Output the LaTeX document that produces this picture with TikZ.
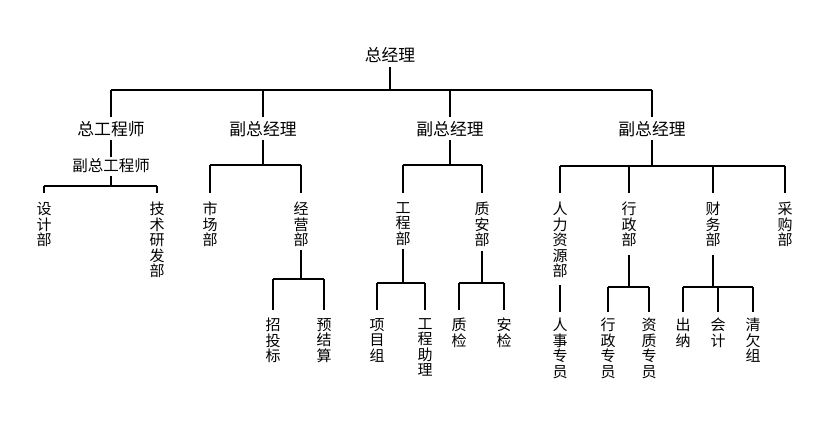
\documentclass[tikz,border=0pt]{standalone}
\usepackage{fontspec}
\newfontfamily\cjk{Noto Sans CJK SC}
\begin{document}
\begin{tikzpicture}[x=1pt,y=-1pt,
  conn/.style={line width=1.15pt, black},
  hbig/.style={font=\cjk\fontsize{16.8}{18}\selectfont, inner sep=0pt, anchor=center},
  hmid/.style={font=\cjk\fontsize{15.5}{17}\selectfont, inner sep=0pt, anchor=center},
  vlab/.style={font=\cjk\fontsize{15}{15.5}\selectfont, inner sep=0pt, anchor=north, align=center}
]
\useasboundingbox (0,0) rectangle (830,447);
% level 1-2
\node[hbig] (gm) at (390,55) {总经理};
\node[hbig] (ce) at (111,129) {总工程师};
\node[hbig] (v1) at (263,129) {副总经理};
\node[hbig] (v2) at (450,129) {副总经理};
\node[hbig] (v3) at (652,129) {副总经理};
\node[hmid] (dce) at (111,166) {副总工程师};
% level 3
\node[vlab] (sj) at (44,202) {设\\计\\部};
\node[vlab] (js) at (157,202) {技\\术\\研\\发\\部};
\node[vlab] (sc) at (210,202) {市\\场\\部};
\node[vlab] (jy) at (301,202) {经\\营\\部};
\node[vlab] (gc) at (403,202) {工\\程\\部};
\node[vlab] (za) at (482,202) {质\\安\\部};
\node[vlab] (rl) at (560,202) {人\\力\\资\\源\\部};
\node[vlab] (xz) at (629,202) {行\\政\\部};
\node[vlab] (cw) at (713,202) {财\\务\\部};
\node[vlab] (cg) at (785,202) {采\\购\\部};
% level 4
\node[vlab] (zt) at (273,318) {招\\投\\标};
\node[vlab] (yj) at (324,318) {预\\结\\算};
\node[vlab] (xm) at (377,318) {项\\目\\组};
\node[vlab] (gz) at (425,318) {工\\程\\助\\理};
\node[vlab] (zj) at (459,318) {质\\检};
\node[vlab] (aj) at (504,318) {安\\检};
\node[vlab] (rs) at (560,318) {人\\事\\专\\员};
\node[vlab] (xy) at (608,318) {行\\政\\专\\员};
\node[vlab] (zz) at (649,318) {资\\质\\专\\员};
\node[vlab] (cn) at (683,318) {出\\纳};
\node[vlab] (kj) at (718,318) {会\\计};
\node[vlab] (qq) at (753,318) {清\\欠\\组};
% bus coordinates
\coordinate (b0) at (0,90);
\coordinate (bd) at (0,186);
\coordinate (b1) at (0,165);
\coordinate (b2) at (0,165);
\coordinate (b3) at (0,166);
\coordinate (bjy) at (0,279);
\coordinate (bgc) at (0,283);
\coordinate (bza) at (0,283);
\coordinate (bxz) at (0,287);
\coordinate (bcw) at (0,287);
% top
\draw[conn] ([yshift=-12pt]gm.center) -- (gm |- b0);
\draw[conn] (ce |- b0) -- (v3 |- b0);
\foreach \c in {ce,v1,v2,v3} \draw[conn] (\c |- b0) -- ([yshift=12pt]\c.center);
% chief engineer
\draw[conn] ([yshift=-11pt]ce.center) -- ([yshift=9pt]dce.center);
\draw[conn] ([yshift=-10pt]dce.center) -- (dce |- bd);
\draw[conn] (sj |- bd) -- (js |- bd);
\foreach \c in {sj,js} \draw[conn] (\c |- bd) -- ([yshift=9pt]\c.north);
% vp1
\draw[conn] ([yshift=-11pt]v1.center) -- (v1 |- b1);
\draw[conn] (sc |- b1) -- (jy |- b1);
\foreach \c in {sc,jy} \draw[conn] (\c |- b1) -- ([yshift=9pt]\c.north);
% vp2
\draw[conn] ([yshift=-11pt]v2.center) -- (v2 |- b2);
\draw[conn] (gc |- b2) -- (za |- b2);
\foreach \c in {gc,za} \draw[conn] (\c |- b2) -- ([yshift=9pt]\c.north);
% vp3
\draw[conn] ([yshift=-11pt]v3.center) -- (v3 |- b3);
\draw[conn] (rl |- b3) -- (cg |- b3);
\foreach \c in {rl,xz,cw,cg} \draw[conn] (\c |- b3) -- ([yshift=9pt]\c.north);
% level 4
\draw[conn] ([yshift=-3pt]jy.south) -- (jy |- bjy);
\draw[conn] (zt |- bjy) -- (yj |- bjy);
\foreach \c in {zt,yj} \draw[conn] (\c |- bjy) -- ([yshift=8pt]\c.north);
\draw[conn] ([yshift=-4pt]gc.south) -- (gc |- bgc);
\draw[conn] (xm |- bgc) -- (gz |- bgc);
\foreach \c in {xm,gz} \draw[conn] (\c |- bgc) -- ([yshift=8pt]\c.north);
\draw[conn] ([yshift=-4pt]za.south) -- (za |- bza);
\draw[conn] (zj |- bza) -- (aj |- bza);
\foreach \c in {zj,aj} \draw[conn] (\c |- bza) -- ([yshift=8pt]\c.north);
\draw[conn] ([yshift=-7pt]rl.south) -- ([yshift=6pt]rs.north);
\draw[conn] ([yshift=-8pt]xz.south) -- (xz |- bxz);
\draw[conn] (xy |- bxz) -- (zz |- bxz);
\foreach \c in {xy,zz} \draw[conn] (\c |- bxz) -- ([yshift=6pt]\c.north);
\draw[conn] ([yshift=-8pt]cw.south) -- (cw |- bcw);
\draw[conn] (cn |- bcw) -- (qq |- bcw);
\foreach \c in {cn,kj,qq} \draw[conn] (\c |- bcw) -- ([yshift=6pt]\c.north);
\end{tikzpicture}
\end{document}
